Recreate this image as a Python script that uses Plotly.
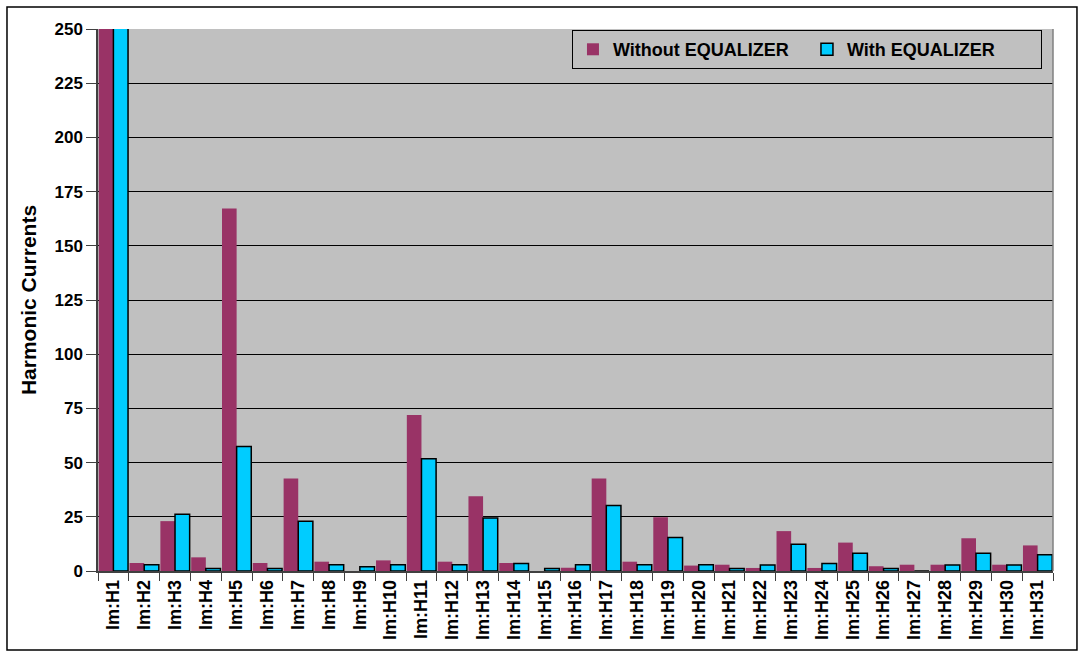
import plotly.graph_objects as go

# Harmonic orders H1..H31
categories = [f"Im:H{i}" for i in range(1, 32)]

# Harmonic current magnitudes (H1 exceeds the axis range and is clipped)
without_equalizer = [265, 3.7, 23.0, 6.3, 167.2, 3.7, 42.7, 4.3, 0.0, 4.9,
                     71.9, 4.3, 34.5, 3.7, 0.0, 1.5, 42.7, 4.3, 24.8, 2.5,
                     2.9, 1.4, 18.4, 1.4, 13.1, 2.2, 2.9, 2.9, 15.1, 2.9, 11.8]
with_equalizer = [265, 2.9, 26.2, 1.2, 57.4, 1.2, 23.0, 2.9, 2.0, 2.9,
                  51.8, 2.9, 24.5, 3.5, 1.2, 2.9, 30.2, 2.9, 15.5, 2.9,
                  1.2, 2.8, 12.3, 3.5, 8.2, 1.2, 0.0, 2.8, 8.2, 2.8, 7.5]

y_ticks = list(range(0, 251, 25))

FONT = "Liberation Sans, Arial, sans-serif"

fig = go.Figure()
fig.add_trace(go.Bar(
    x=categories, y=without_equalizer, name="<b>Without EQUALIZER</b>",
    marker=dict(color="#993366", line=dict(width=0)),
))
fig.add_trace(go.Bar(
    x=categories, y=with_equalizer, name="<b>With EQUALIZER</b>",
    marker=dict(color="#00CCFF", line=dict(color="black", width=1.5)),
))

fig.update_layout(
    width=1084, height=658,
    margin=dict(l=98, r=31, t=29, b=87, pad=0, autoexpand=False),
    paper_bgcolor="white",
    plot_bgcolor="#C0C0C0",
    barmode="group",
    bargap=0.05,
    bargroupgap=0.0,
    font=dict(family=FONT, color="black"),
    showlegend=True,
    legend=dict(
        orientation="h",
        x=0.4963, y=0.998, xanchor="left", yanchor="top",
        bgcolor="#C0C0C0", bordercolor="black", borderwidth=1,
        font=dict(family=FONT, size=18, color="black"),
        entrywidth=189, entrywidthmode="pixels",
        itemclick=False,
    ),
    xaxis=dict(
        type="category",
        tickangle=-90,
        tickfont=dict(family=FONT, size=18, color="black"),
        ticks="outside", tickson="boundaries", ticklen=8,
        tickcolor="#404040",
        showline=True, linecolor="#404040", linewidth=1.5,
        mirror=False,
        showgrid=False,
        tickprefix="<b>", ticksuffix="</b>",
    ),
    yaxis=dict(
        range=[0, 250],
        tickvals=y_ticks,
        ticktext=[f"<b>{v}</b>" for v in y_ticks],
        tickfont=dict(family=FONT, size=17, color="black"),
        ticks="outside", ticklen=10, tickcolor="#404040",
        showline=True, linecolor="#404040", linewidth=1.5,
        showgrid=True, gridcolor="black", gridwidth=1,
        zeroline=False,
        title=dict(text="<b>Harmonic Currents</b>",
                   font=dict(family=FONT, size=21, color="black"),
                   standoff=12),
    ),
    shapes=[
        # right border of the plot area
        dict(type="line", xref="paper", yref="paper", x0=1, x1=1, y0=0, y1=1,
             line=dict(color="#808080", width=1.5), layer="above"),
        # outer frame of the chart
        dict(type="rect", xref="paper", yref="paper",
             x0=-0.0953, x1=1.0251, y0=-0.1458, y1=1.0406,
             line=dict(color="black", width=1.5), fillcolor="rgba(0,0,0,0)",
             layer="above"),
    ],
)

fig.write_html("out.html")
